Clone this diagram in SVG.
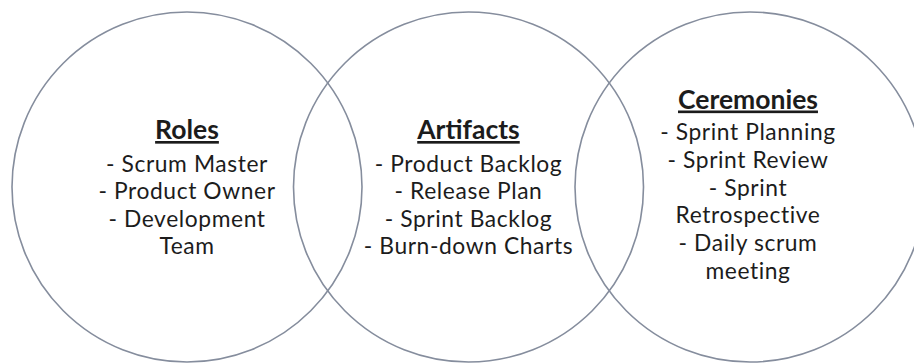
<svg xmlns="http://www.w3.org/2000/svg" width="914" height="363" viewBox="0 0 914 363">
<style>
.c{fill:none;stroke:#858d9d;stroke-width:1.6}
.t{font-family:Lato,"Open Sans","Liberation Sans",sans-serif;font-size:22.8px;letter-spacing:0.6px;fill:#1c1c1c;text-anchor:middle}
.h{font-family:Lato,"Open Sans","Liberation Sans",sans-serif;font-size:26.5px;font-weight:bold;fill:#1c1c1c;text-anchor:middle;text-decoration:underline}
</style>
<rect width="914" height="363" fill="#ffffff"/>
<g id="roles">
<circle class="c" cx="187" cy="187" r="175"/>
<text class="h" x="187" y="139">Roles</text>
<text class="t" x="187" y="171.5">- Scrum Master</text>
<text class="t" x="187" y="199">- Product Owner</text>
<text class="t" x="187" y="226.5">- Development</text>
<text class="t" x="187" y="254">Team</text>
</g>
<g id="artifacts">
<circle class="c" cx="468.5" cy="187" r="175"/>
<text class="h" x="468.5" y="139">Artifacts</text>
<text class="t" x="468.5" y="171.5">- Product Backlog</text>
<text class="t" x="468.5" y="199">- Release Plan</text>
<text class="t" x="468.5" y="226.5">- Sprint Backlog</text>
<text class="t" x="468.5" y="254">- Burn-down Charts</text>
</g>
<g id="ceremonies">
<circle class="c" cx="750" cy="187" r="175"/>
<text class="h" x="748" y="108.5">Ceremonies</text>
<text class="t" x="748" y="140">- Sprint Planning</text>
<text class="t" x="748" y="167.8">- Sprint Review</text>
<text class="t" x="748" y="195.6">- Sprint</text>
<text class="t" x="748" y="223.4">Retrospective</text>
<text class="t" x="748" y="251.2">- Daily scrum</text>
<text class="t" x="748" y="279">meeting</text>
</g>
<g id="connectors"></g>
</svg>
